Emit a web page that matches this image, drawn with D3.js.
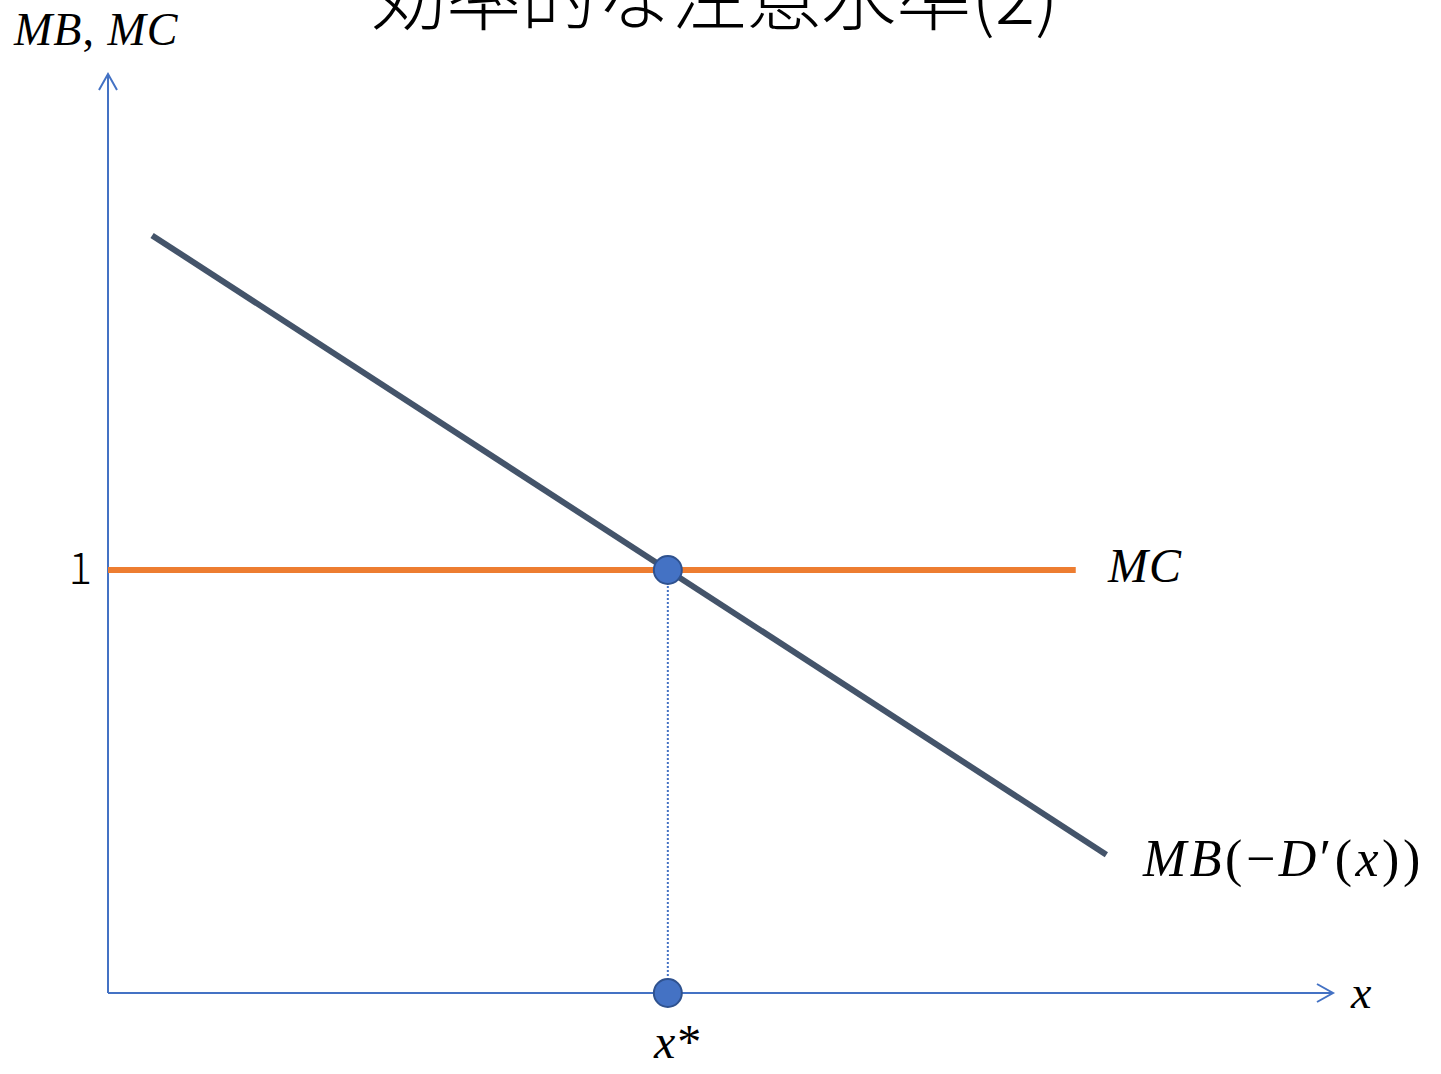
<!DOCTYPE html>
<html>
<head>
<meta charset="utf-8">
<script src="https://cdn.jsdelivr.net/npm/d3@7"></script>
<style>
  html, body { margin: 0; padding: 0; background: #fff; overflow: hidden; }
</style>
</head>
<body>
<script>
// data
var title = "効率的な注意水準(2)";
var mbX = [0.36, 8.15];          // MB line ends (x)
var mbY = [1.791, 0.327];        // MB line ends (y)
var mcX = [0, 7.9];              // MC line ends
var mcY = [1, 1];
var xStar = 4.57;
var yTicks = [1];
var yTickLabels = ["1"];

var W = 1441, H = 1074;
var svg = d3.select("body")
    .append("svg")
    .attr("width", W)
    .attr("height", H);

// scales: origin at (108, 993)
var xScale = d3.scaleLinear().domain([0, 10]).range([108, 1333]);
var yScale = d3.scaleLinear().domain([0, 1]).range([993, 570]);

var blue = "#4472C4";
var serif = "'Liberation Serif', 'DejaVu Serif', serif";
var cjk = "'Noto Sans CJK JP', 'Noto Sans', sans-serif";

// title (cut off at top, as in the original slide)
svg.append("text")
    .attr("x", 715)
    .attr("y", 24)
    .attr("text-anchor", "middle")
    .attr("font-family", cjk)
    .attr("font-weight", 300)
    .attr("font-size", "75px")
    .attr("fill", "#000")
    .text(title);

// axes
var x0 = xScale(0), y0 = yScale(0);
var yTop = 74, xEnd = 1333;
svg.append("line")
    .attr("x1", x0).attr("y1", y0).attr("x2", x0).attr("y2", yTop)
    .attr("stroke", blue).attr("stroke-width", 2);
svg.append("polyline")
    .attr("points", [[x0 - 9, yTop + 16], [x0, yTop], [x0 + 9, yTop + 16]].join(" "))
    .attr("fill", "none").attr("stroke", blue).attr("stroke-width", 2);
svg.append("line")
    .attr("x1", x0).attr("y1", y0).attr("x2", xEnd).attr("y2", y0)
    .attr("stroke", blue).attr("stroke-width", 2);
svg.append("polyline")
    .attr("points", [[xEnd - 16, y0 - 9], [xEnd, y0], [xEnd - 16, y0 + 9]].join(" "))
    .attr("fill", "none").attr("stroke", blue).attr("stroke-width", 2);

// y tick labels
svg.selectAll(".ytick")
    .data(yTicks)
    .enter()
    .append("text")
    .attr("class", "ytick")
    .attr("x", 92)
    .attr("y", function (d) { return yScale(d) + 14; })
    .attr("text-anchor", "end")
    .attr("font-family", cjk)
    .attr("font-weight", 300)
    .attr("font-size", "44px")
    .text(function (d, i) { return yTickLabels[i]; });

// MC line
var line = d3.line()
    .x(function (d) { return xScale(d[0]); })
    .y(function (d) { return yScale(d[1]); });

svg.append("path")
    .datum(d3.zip(mcX, mcY))
    .attr("d", line)
    .attr("fill", "none")
    .attr("stroke", "#ED7D31")
    .attr("stroke-width", 6);

// MB line
svg.append("path")
    .datum(d3.zip(mbX, mbY))
    .attr("d", line)
    .attr("fill", "none")
    .attr("stroke", "#44546A")
    .attr("stroke-width", 6);

// dotted drop line
svg.append("line")
    .attr("x1", xScale(xStar)).attr("y1", yScale(1))
    .attr("x2", xScale(xStar)).attr("y2", yScale(0))
    .attr("stroke", blue)
    .attr("stroke-width", 2)
    .attr("stroke-dasharray", "2,2");

// points
svg.selectAll(".pt")
    .data([[xStar, 1], [xStar, 0]])
    .enter()
    .append("circle")
    .attr("class", "pt")
    .attr("cx", function (d) { return xScale(d[0]); })
    .attr("cy", function (d) { return yScale(d[1]); })
    .attr("r", 14)
    .attr("fill", blue)
    .attr("stroke", "#2F528F")
    .attr("stroke-width", 2);

// labels
function label(x, y, size, spacing, parts) {
    var t = svg.append("text")
        .attr("x", x).attr("y", y)
        .attr("font-family", serif)
        .attr("font-size", size)
        .attr("letter-spacing", spacing);
    parts.forEach(function (p) {
        t.append("tspan")
            .attr("font-style", p[1] ? "italic" : "normal")
            .text(p[0]);
    });
    return t;
}
label(14, 45, "46px", 1, [["MB", true], [", ", false], ["MC", true]]);
label(1108, 582, "48px", 1, [["MC", true]]);
label(1143, 876, "52px", 3.5, [["MB", true], ["(\u2212", false], ["D", true], ["\u2032(", false], ["x", true], ["))", false]]);
label(1351, 1008, "46px", 0, [["x", true]]);
label(654, 1058, "48px", 2, [["x", true], ["*", false]]);
</script>
</body>
</html>
